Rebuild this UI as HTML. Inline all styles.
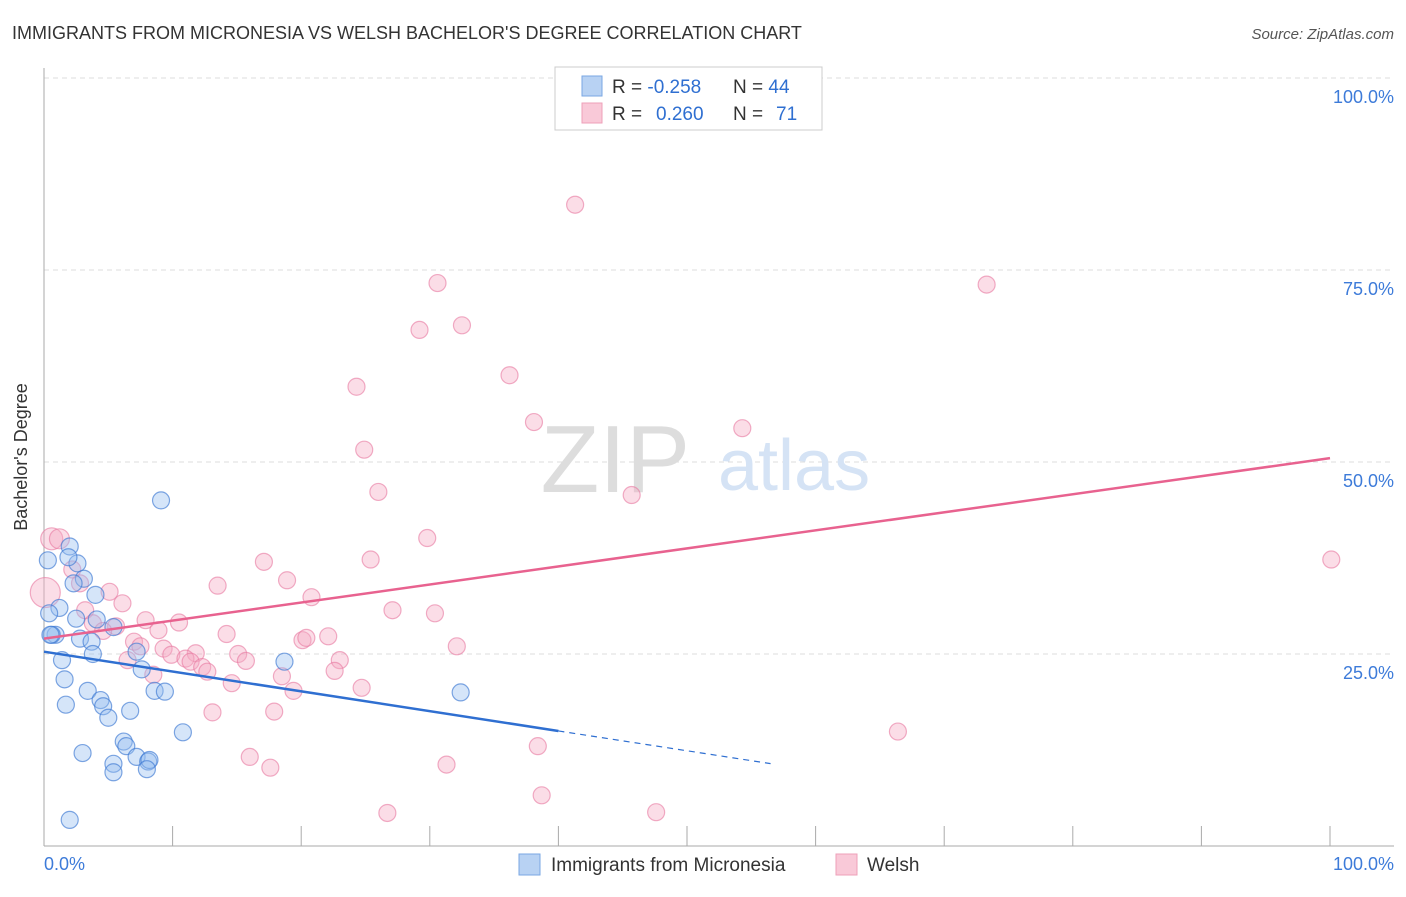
<!DOCTYPE html>
<html><head><meta charset="utf-8"><style>
body{margin:0;background:#fff;font-family:"Liberation Sans",sans-serif}
svg text{font-family:"Liberation Sans",sans-serif}
</style></head><body>
<svg width="1406" height="892" viewBox="0 0 1406 892">
<text x="12" y="39" font-size="18" fill="#333">IMMIGRANTS FROM MICRONESIA VS WELSH BACHELOR'S DEGREE CORRELATION CHART</text>
<text x="1394" y="39" font-size="15" fill="#555" text-anchor="end" font-style="italic">Source: ZipAtlas.com</text>
<g id="grid"></g>
<text x="690" y="492" font-size="96" fill="#ddd" text-anchor="end" font-family="Liberation Serif">ZIP</text>
<text x="718" y="490" font-size="72" fill="#d5e3f5">atlas</text>
<line x1="44" y1="68" x2="44" y2="846" stroke="#aaa"/>
<line x1="44" y1="846" x2="1394" y2="846" stroke="#aaa"/>
<g id="ticks"></g>
<g id="pts"></g>
<g id="trends"></g>
<text x="27" y="457" font-size="18" fill="#333" text-anchor="middle" transform="rotate(-90 27 457)">Bachelor's Degree</text>
<text x="44" y="870" font-size="18" fill="#3d7bd9">0.0%</text>
<text x="1394" y="870" font-size="18" fill="#3d7bd9" text-anchor="end">100.0%</text>
<g>
<rect x="555" y="67" width="267" height="63" fill="#fff" stroke="#ccc"/>
<rect x="582" y="76" width="20" height="20" fill="#b8d2f3" stroke="#7aa7e3"/>
<rect x="582" y="103" width="20" height="20" fill="#f9c9d8" stroke="#eea0b9"/>
<text x="612" y="93" font-size="19" fill="#333">R = <tspan fill="#2f6fd1">-0.258</tspan><tspan x="733">N = </tspan><tspan fill="#2f6fd1">44</tspan></text>
<text x="612" y="120" font-size="19" fill="#333">R = <tspan x="656" fill="#2f6fd1">0.260</tspan><tspan x="733">N = </tspan><tspan x="776" fill="#2f6fd1">71</tspan></text>
</g>
<g>
<rect x="519" y="854" width="21" height="21" fill="#b8d2f3" stroke="#7aa7e3"/>
<text x="551" y="871" font-size="19" fill="#333">Immigrants from Micronesia</text>
<rect x="836" y="854" width="21" height="21" fill="#f9c9d8" stroke="#eea0b9"/>
<text x="867" y="871" font-size="19" fill="#333">Welsh</text>
</g>
</svg>
<script>
const yTicks=[25,50,75,100];
const xTickCount=10;
const blueX=[9.1,0.3,2.0,2.6,1.9,3.1,2.3,4.0,1.2,0.4,2.5,4.1,0.9,0.6,2.8,3.7,3.8,7.2,1.4,1.6,7.6,3.4,1.7,4.4,4.6,5.0,8.6,9.4,6.7,10.8,6.2,6.4,3.0,7.2,8.1,8.2,5.4,5.4,8.0,2.0,18.7,32.4,5.4,0.5];
const blueY=[45.0,37.2,39.0,36.8,37.6,34.8,34.2,32.7,31.0,30.3,29.6,29.5,27.5,27.5,27.0,26.6,25.0,25.3,24.2,21.7,23.0,20.2,18.4,19.0,18.2,16.7,20.2,20.1,17.6,14.8,13.6,13.0,12.1,11.6,11.0,11.2,10.7,9.6,10.0,3.4,24.0,20.0,28.5,27.5];
const pinkX=[41.3,30.6,73.3,29.2,32.5,36.2,24.3,38.1,54.3,24.9,26.0,45.7,29.8,100.1,0.6,1.2,0.1,17.1,25.4,13.5,18.9,5.1,6.1,20.8,27.1,30.4,3.2,7.9,10.5,3.8,5.6,4.6,8.9,14.2,20.1,20.4,22.1,7.0,7.5,9.3,32.1,11.8,6.5,9.9,11.0,15.1,11.4,12.3,15.7,12.7,23.0,22.6,18.5,8.5,14.6,24.7,19.4,13.1,17.9,66.4,38.4,16.0,17.6,31.3,38.7,26.7,47.6,2.2,2.8];
const pinkY=[83.5,73.3,73.1,67.2,67.8,61.3,59.8,55.2,54.4,51.6,46.1,45.7,40.1,37.3,40.0,40.0,33.0,37.0,37.3,33.9,34.6,33.1,31.6,32.4,30.7,30.3,30.7,29.4,29.1,29.0,28.6,28.0,28.1,27.6,26.8,27.1,27.3,26.6,26.0,25.7,26.0,25.1,24.2,24.9,24.4,25.0,24.0,23.3,24.1,22.7,24.2,22.8,22.1,22.3,21.2,20.6,20.2,17.4,17.5,14.9,13.0,11.6,10.2,10.6,6.6,4.3,4.4,36.0,34.2];
const pinkR=[];pinkR[16]=15;pinkR[14]=11;pinkR[15]=10;
const blueTrend=[25.3,-0.258];
const pinkTrend=[27.0,0.235];
const NS="http://www.w3.org/2000/svg";
const X0=44,X1=1330,Y0=846,Y1=78;
const sx=v=>X0+(X1-X0)*v/100, sy=v=>Y0-(Y0-Y1)*v/100;
function mk(t,a,p){const e=document.createElementNS(NS,t);for(const k in a)e.setAttribute(k,a[k]);p.appendChild(e);return e;}
const grid=document.getElementById('grid');
yTicks.forEach(v=>{
 const l=mk('line',{x1:44,x2:1394,y1:sy(v),y2:sy(v),stroke:'#ddd','stroke-dasharray':'5,4'},grid);
 
 
 const t=mk('text',{x:1394,y:sy(v)+25,'font-size':18,fill:'#3d7bd9','text-anchor':'end'},grid);
 t.textContent=v.toFixed(1)+'%';
 
 
});
const ticks=document.getElementById('ticks');
for(let i=1;i<=xTickCount;i++){
 const l=mk('line',{x1:sx(i*10),x2:sx(i*10),y1:826,y2:846,stroke:'#aaa'},ticks);
 
 
}
const pts=document.getElementById('pts');
pinkX.forEach((x,i)=>{
 const c=mk('circle',{cx:sx(x),cy:sy(pinkY[i]),r:pinkR[i]||8.5,fill:'rgba(246,170,195,0.4)',stroke:'rgba(232,120,160,0.6)','stroke-width':1.2},pts);
 
 
});
blueX.forEach((x,i)=>{
 const c=mk('circle',{cx:sx(x),cy:sy(blueY[i]),r:8.5,fill:'rgba(150,190,240,0.4)',stroke:'rgba(60,120,210,0.65)','stroke-width':1.2},pts);
 
 
});
const tr=document.getElementById('trends');
const bl=mk('line',{x1:sx(0),y1:sy(blueTrend[0]),x2:sx(40),y2:sy(blueTrend[0]+blueTrend[1]*40),stroke:'#2f6fd1','stroke-width':2.5},tr);


const bd=mk('line',{x1:sx(40),y1:sy(blueTrend[0]+blueTrend[1]*40),x2:sx(56.5),y2:sy(blueTrend[0]+blueTrend[1]*56.5),stroke:'#2f6fd1','stroke-width':1.2,'stroke-dasharray':'6,5'},tr);


const pl=mk('line',{x1:sx(0),y1:sy(pinkTrend[0]),x2:sx(100),y2:sy(pinkTrend[0]+pinkTrend[1]*100),stroke:'#e8628f','stroke-width':2.5},tr);


</script>
</body></html>
